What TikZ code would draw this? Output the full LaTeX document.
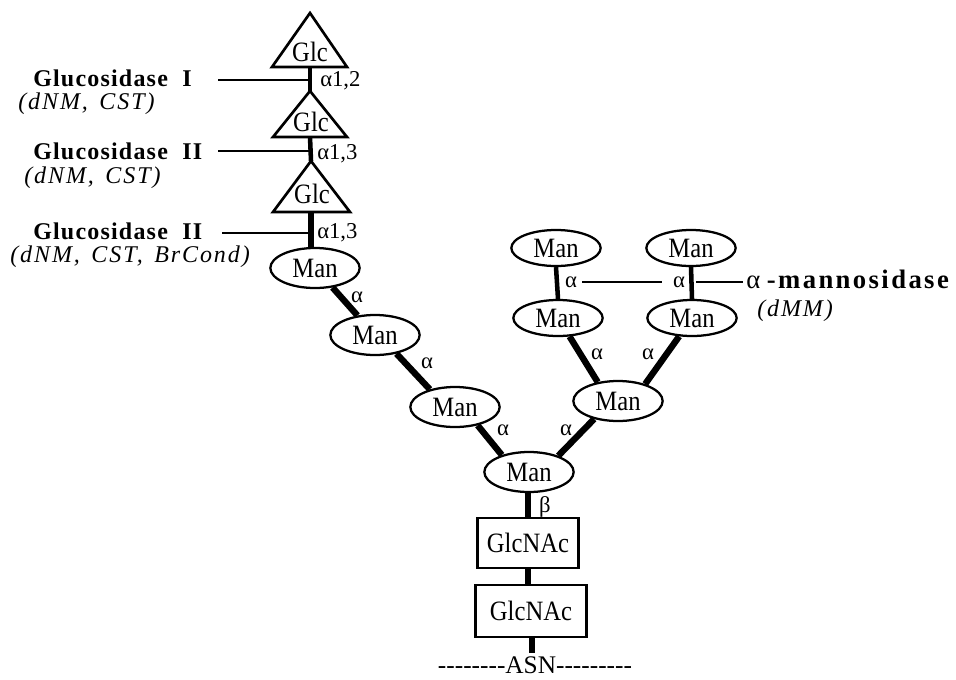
\documentclass[tikz,border=0pt]{standalone}
\usepackage{fontspec}
\setmainfont{Liberation Serif}
\newfontfamily\nf{Liberation Serif}[FakeStretch=0.88]
\newfontfamily\gbf{Liberation Serif}[LetterSpace=5]
\newfontfamily\mbf{Liberation Serif}[LetterSpace=9]
\newfontfamily\itf{Liberation Serif}[LetterSpace=8]
\usetikzlibrary{shapes.geometric}
\tikzset{
  man/.style={ellipse, draw, line width=1.7pt, minimum width=67pt, minimum height=30pt, inner sep=0pt, font=\nf\fontsize{21}{21}\selectfont},
  mantop/.style={man, minimum height=27pt},
  gbox/.style={rectangle, draw, line width=2pt, minimum width=76pt, minimum height=37.5pt, inner sep=0pt, font=\nf\fontsize{21}{21}\selectfont},
  tri/.style={draw, line width=2pt, line join=miter},
  glc/.style={inner sep=0pt, font=\nf\fontsize{21}{21}\selectfont},
  thickedge/.style={line width=4.8pt},
  vert/.style={line width=3.8pt},
  stub/.style={line width=3.4pt},
  thin/.style={line width=1.6pt},
  elab/.style={inner sep=0pt, font=\fontsize{17}{17}\selectfont},
  lnk/.style={inner sep=0pt, anchor=base west, font=\fontsize{17}{17}\selectfont},
  enz/.style={inner sep=0pt, anchor=base west, font=\gbf\bfseries\fontsize{18}{18}\selectfont},
  inh/.style={inner sep=0pt, anchor=base west, font=\itf\itshape\fontsize{18}{18}\selectfont}
}
\begin{document}
\begin{tikzpicture}[x=0.75pt, y=-0.75pt]
\useasboundingbox (0,0) rectangle (956,679);
% triangles
\draw[tri] (310,13) coordinate (a1) -- (347,67) -- (272,67) -- cycle;
\coordinate (b1) at (310,67);
\node[glc] (t1) at (310,52) {Glc};
\draw[tri] (310,91) coordinate (a2) -- (347,137) -- (273,137) -- cycle;
\coordinate (b2) at (310,137);
\node[glc] (t2) at (311,122) {Glc};
\draw[tri] (311,161) coordinate (a3) -- (350,212) -- (273,212) -- cycle;
\coordinate (b3) at (311,212);
\node[glc] (t3) at (312,194) {Glc};
% mannoses
\node[man] (m1) at (315,268) {Man};
\node[man] (m2) at (375,335) {Man};
\node[man] (m3) at (455,407) {Man};
\node[man] (m4) at (529,472) {Man};
\node[man] (m5) at (618,401) {Man};
\node[mantop] (m6) at (558,318) {Man};
\node[mantop] (m7) at (692,318) {Man};
\node[mantop] (m8) at (556,248) {Man};
\node[mantop] (m9) at (691,248) {Man};
\node[gbox] (n1) at (528,543) {GlcNAc};
\node[gbox, minimum width=83pt, minimum height=39pt] (n2) at (531,611) {GlcNAc};
\node[inner sep=0pt, anchor=base, font=\fontsize{19}{19}\selectfont] (asn) at (535,673) {-{}-{}-{}-{}-{}-{}-{}-{}ASN-{}-{}-{}-{}-{}-{}-{}-{}-{}};
\coordinate (asntop) at (532,653);
% glucose chain
\draw[stub] (b1) -- (a2);
\draw[stub] (b2) -- (a3);
\draw[vert] (b3) -- (m1.north -| b3);
\coordinate (j1) at (310,80);
\coordinate (j2) at (310,151);
\coordinate (j3) at (311,233);
\coordinate (h1) at (218,80);
\coordinate (h2) at (218,151);
\coordinate (h3) at (222,233);
\draw[thin] (h1) -- (j1);
\draw[thin] (h2) -- (j2);
\draw[thin] (h3) -- (j3);
\node[lnk] (l1) at (320,86) {α1,2};
\node[lnk] (l2) at (317,159) {α1,3};
\node[lnk] (l3) at (317,238) {α1,3};
% enzymes
\node[enz] (e1) at (33,86) {Glucosidase\hspace{0.6em}I};
\node[inh] (i1) at (18,109) {(dNM,\hspace{0.15em} CST)};
\node[enz] (e2) at (33,159) {Glucosidase\hspace{0.6em}II};
\node[inh] (i2) at (24,183) {(dNM,\hspace{0.15em} CST)};
\node[enz] (e3) at (33,239) {Glucosidase\hspace{0.6em}II};
\node[inh] (i3) at (10,262) {(dNM,\hspace{0.15em} CST,\hspace{0.15em} BrCond)};
% mannose edges
\draw[thickedge] (m1.-48) -- (m2.132);
\draw[thickedge] (m2.-41) -- (m3.145);
\draw[thickedge] (m3.-39) -- (m4.148);
\draw[thickedge] (m4.29) -- (m5.217);
\draw[thickedge] (m5.137) -- (m6.-58);
\draw[thickedge] (m5.32) -- (m7.235);
\draw[stub] (m8.south) -- (m6.north);
\draw[stub] (m9.south) -- (m7.north);
\draw[vert] (m4.south -| n1.north) -- (n1.north);
\draw[vert] (n1.south) -- (n2.north -| n1.south);
\draw[vert] (n2.south -| asntop) -- (asntop);
\node[elab] (al1) at (357,297) {α};
\node[elab] (al2) at (427,363) {α};
\node[elab] (al3) at (503,430) {α};
\node[elab] (al4) at (566,430) {α};
\node[elab] (al5) at (597,354) {α};
\node[elab] (al6) at (648,354) {α};
\node[elab] (be) at (545,507) {β};
\node[elab] (al7) at (571,282) {α};
\node[elab] (al8) at (679,282) {α};
\coordinate (k1) at (582,282);
\coordinate (k2) at (662,282);
\coordinate (k3) at (696,282);
\coordinate (k4) at (743,282);
\draw[thin] (k1) -- (k2);
\draw[thin] (k3) -- (k4);
\node[inner sep=0pt, anchor=base west, font=\fontsize{20}{20}\selectfont] (mn) at (746,288) {α\hspace{0.25em}{\mbf\bfseries -mannosidase}};
\node[inner sep=0pt, anchor=base west, font=\itshape\fontsize{18}{18}\selectfont] (dmm) at (757,316) {{\itf (dMM)}};
\end{tikzpicture}
\end{document}
